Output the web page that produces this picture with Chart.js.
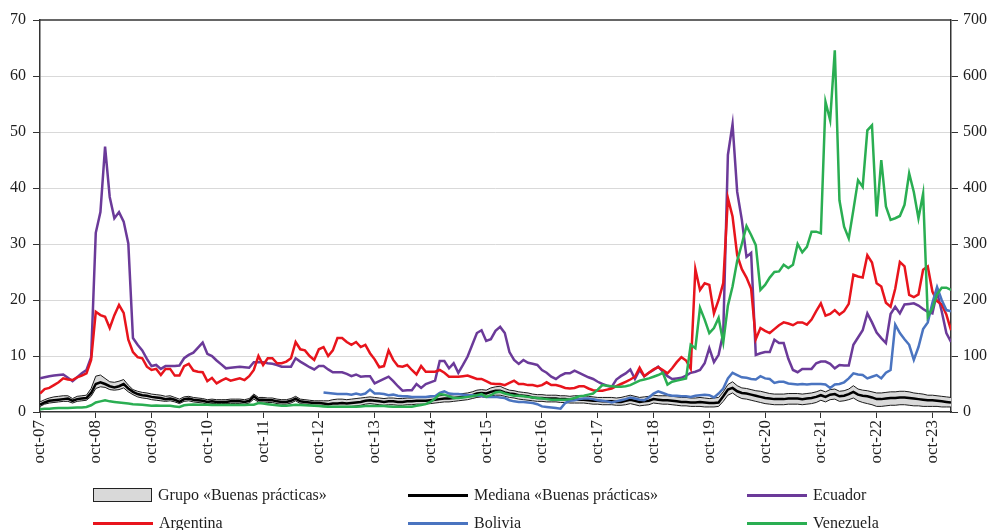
<!DOCTYPE html>
<html lang="es">
<head>
<meta charset="utf-8">
<title>Diferenciales soberanos</title>
<script src="https://cdn.jsdelivr.net/npm/chart.js@4.4.0/dist/chart.umd.min.js"></script>
<style>
  html, body { margin: 0; padding: 0; background: #fff; }
  #wrap { position: relative; width: 989px; height: 530px; overflow: hidden; }
  #chart { position: absolute; left: 0; top: 0; }
  .lg-item { position: absolute; height: 20px; display: flex; align-items: center;
             font-family: 'Liberation Serif', 'Times New Roman', serif; font-size: 16px; color: #1e1e1e; white-space: nowrap; }
  .lg-box { width: 57px; height: 12px; background: #d9d9d9; border: 1.5px solid #222; margin-right: 6px; }
  .lg-line { width: 60px; height: 3px; margin-right: 6px; }
</style>
</head>
<body>
<div id="wrap">
  <canvas id="chart" width="989" height="530"></canvas>
  <div id="legend"></div>
</div>
<script>
// Monthly series, October 2007 to February 2024 (one row per year, Oct..Sep)
const xTickLabels = ['oct-07','oct-08','oct-09','oct-10','oct-11','oct-12','oct-13','oct-14',
                     'oct-15','oct-16','oct-17','oct-18','oct-19','oct-20','oct-21','oct-22','oct-23'];

const ecuador = [
  6.0, 6.2, 6.4, 6.5, 6.6, 6.7, 6.1, 5.5, 6.2, 6.9, 7.5, 9.8,
  32, 35.7, 47.4, 38.4, 34.6, 35.7, 34, 30.1, 13.2, 12, 11, 9.5,
  8.2, 8.4, 7.7, 8.2, 8.2, 8.2, 8.3, 9.6, 10.2, 10.6, 11.5, 12.4,
  10.4, 10, 9.2, 8.5, 7.8, 7.9, 8, 8.1, 8, 7.9, 8.9, 8.9,
  8.9, 8.7, 8.6, 8.4, 8.1, 8.1, 8.1, 9.6, 9, 8.5, 8, 7.6,
  8.2, 8.2, 7.6, 7.1, 7.1, 7.1, 6.8, 6.4, 6.7, 6.3, 6.4, 6.4,
  5.1, 5.5, 5.9, 6.3, 5.5, 4.6, 3.8, 3.9, 3.9, 5, 4.3, 5,
  5.3, 5.6, 9.1, 9.1, 7.8, 8.7, 7, 8.4, 9.9, 12, 14.1, 14.6,
  12.7, 13, 14.5, 15.2, 14.1, 10.7, 9.3, 8.6, 9.3, 8.8, 8.6, 8.4,
  7.5, 7, 6.3, 5.9, 6.5, 6.9, 6.9, 7.4, 7, 6.6, 6.2, 5.9,
  5.4, 5, 4.7, 4.5, 5.8, 6.4, 6.9, 7.6, 5.9, 7.5, 6.4, 7,
  7.5, 8.1, 7.2, 6.4, 5.9, 6, 6.1, 6.5, 7, 7.2, 7.5, 8.7,
  11.4, 8.9, 10.2, 14.1, 45.9, 51.4, 39.3, 34.3, 27.7, 28.4, 10.2, 10.5,
  10.7, 10.7, 12.9, 12.3, 12.3, 9.5, 7.5, 7.1, 7.7, 7.7, 7.7, 8.7,
  9, 9, 8.6, 7.8, 8.4, 8.3, 8.3, 12, 13.3, 14.6, 17.6, 16,
  14.2, 13.2, 12.3, 17.5, 18.8, 17.6, 19.2, 19.3, 19.4, 19, 18.4, 17.9,
  17.6, 21.4, 18, 14.1, 12.5
];

const argentina = [
  3.3, 4.1, 4.3, 4.8, 5.3, 6.0, 5.8, 5.7, 6.2, 6.5, 6.9, 9.3,
  17.9, 17.3, 17, 15, 17.3, 19.1, 17.7, 12.9, 10.7, 9.8, 9.6, 8.1,
  7.5, 7.7, 6.6, 7.7, 7.7, 6.5, 6.5, 8.2, 8.6, 7.4, 7.2, 7.1,
  5.5, 6.1, 5.1, 5.6, 6, 5.6, 5.8, 6, 5.7, 6.4, 7.5, 10,
  8.4, 9.6, 9.6, 8.7, 8.7, 9, 9.6, 12.5, 11.2, 11, 10, 9.3,
  11.2, 11.6, 10, 11, 13.2, 13.2, 12.5, 12, 12.5, 11.6, 12, 10.5,
  9.4, 8, 8.2, 11, 9.3, 8.2, 8.1, 8.4, 7.5, 6.7, 8.2, 7.2,
  7.2, 7.2, 7.5, 7, 6.3, 6.3, 6.3, 6.4, 6.5, 6.2, 5.9, 5.9,
  5.5, 5.1, 5, 5, 4.8, 5.2, 5.6, 5, 5, 4.8, 4.8, 4.6,
  4.8, 5.3, 4.8, 4.8, 4.6, 4.3, 4.2, 4.3, 4.6, 4.6, 4.2, 3.9,
  3.8, 3.8, 4, 4.2, 4.6, 5, 5.4, 5.8, 6.3, 7.9, 6.4, 7,
  7.6, 8, 7.5, 6.9, 7.8, 8.9, 9.8, 9.2, 7.7, 25.5, 21.8, 23,
  22.7, 17.6, 20, 23, 38.2, 34.9, 28, 25.5, 24, 22, 13, 15,
  14.5, 14.1, 14.8, 15.5, 16, 15.8, 15.5, 16, 16, 15.6, 16.5, 18,
  19.4, 17.2, 17.5, 18.2, 17.4, 18, 19.3, 24.5, 24.2, 24, 28, 26.7,
  23, 22.4, 19.5, 18.8, 22, 26.8, 26, 20.9, 20.5, 21, 25.4, 26,
  21.5, 19.8, 19.2, 17.4, 14.6
];

const bolivia = [
  null, null, null, null, null, null, null, null, null, null, null, null,
  null, null, null, null, null, null, null, null, null, null, null, null,
  null, null, null, null, null, null, null, null, null, null, null, null,
  null, null, null, null, null, null, null, null, null, null, null, null,
  null, null, null, null, null, null, null, null, null, null, null, null,
  null, 3.5, 3.4, 3.3, 3.2, 3.2, 3.2, 3.1, 3.3, 3.1, 3.3, 4.0,
  3.3, 3.3, 3.2, 3.0, 3.1, 2.9, 2.8, 2.8, 2.7, 2.7, 2.7, 2.7,
  2.8, 2.8, 3.4, 3.7, 3.3, 3.2, 3.2, 3.1, 3.0, 3.0, 2.9, 2.9,
  2.7, 2.7, 2.7, 2.6, 2.5, 2.1, 1.9, 1.8, 1.8, 1.7, 1.6, 1.4,
  1.0, 0.9, 0.8, 0.7, 0.6, 1.6, 2.0, 2.1, 2.3, 2.4, 2.4, 2.3,
  2.1, 2.0, 1.9, 1.7, 1.9, 2.1, 2.3, 2.6, 2.4, 2.2, 2.1, 2.6,
  3.3, 3.7, 3.4, 3.1, 2.9, 2.9, 2.8, 2.8, 2.7, 2.9, 3.0, 3.1,
  3.0, 2.6, 3.3, 4.2, 6.0, 7.0, 6.6, 6.2, 6.1, 5.9, 5.8, 6.4,
  6.0, 5.9, 5.2, 5.4, 5.4, 5.1, 5.0, 4.9, 5.0, 4.9, 5.0, 5.0,
  5.0, 4.9, 4.3, 4.9, 5.0, 5.3, 6.0, 6.9, 6.7, 6.6, 6.0, 6.3,
  6.6, 6.0, 7.0, 7.5, 15.6, 14.1, 13.0, 12.0, 9.3, 11.6, 14.8, 16.0,
  19.5, 22.3, 20.0, 18.2, 18.0
];

// Venezuela is read on the right-hand axis
const venezuela = [
  5, 6, 6, 6.5, 7, 7, 7, 7.5, 8, 8, 9, 12,
  17, 19, 21, 19, 18, 17, 16, 15, 14, 13.5, 13, 12,
  11, 11.5, 11, 11, 11, 10, 9, 12, 13, 13.5, 13, 13,
  13, 12.5, 12.5, 12.5, 12.5, 12.5, 12.5, 12.5, 12.5, 13, 13, 16,
  15, 14, 13, 12, 11, 11, 12, 13, 12.5, 12, 11.5, 11,
  10.5, 10, 9.5, 9.5, 9.5, 9.5, 9.5, 9.5, 9.5, 10, 10.5, 10.7,
  10.7, 10.7, 10.5, 10, 9.5, 9.5, 9.5, 9.5, 9.5, 11, 12.6, 14,
  18, 24, 32, 31, 28, 25, 25, 26, 27, 28, 30, 32,
  27, 30, 35, 36, 33, 31, 29, 29, 28, 27, 26, 25,
  24, 23, 22, 22, 22, 22, 23, 25, 28, 29, 31, 33,
  40, 48, 47, 46, 45, 45, 46, 48, 52, 56, 58, 60,
  63, 66, 70, 49, 54, 56, 58, 60, 120, 114, 186, 165,
  141, 150, 168, 124, 190, 224, 270, 300, 332, 316, 298, 218,
  227, 240, 250, 251, 263, 257, 263, 300, 285, 295, 322, 322,
  319, 554, 521, 646, 378, 331, 310, 361, 414, 402, 503, 512,
  349, 450, 367, 343, 346, 350, 370, 426, 393, 346, 390, 170,
  185, 210, 222, 222, 218
];

// "Buenas prácticas" group: median and range
const medianaBP = [
  1.3, 1.7, 2.0, 2.1, 2.2, 2.3, 2.4, 2.0, 2.3, 2.4, 2.5, 3.4,
  5.0, 5.3, 5.0, 4.6, 4.4, 4.6, 5.0, 4.2, 3.6, 3.2, 3.0, 2.9,
  2.7, 2.6, 2.5, 2.3, 2.4, 2.2, 1.8, 2.3, 2.4, 2.2, 2.1, 2.0,
  1.8, 1.9, 1.8, 1.8, 1.8, 1.9, 1.9, 1.9, 1.8, 2.0, 2.8, 2.2,
  2.2, 2.1, 2.1, 1.9, 1.8, 1.8, 2.0, 2.4, 1.9, 1.8, 1.7, 1.6,
  1.6, 1.5, 1.4, 1.5, 1.5, 1.6, 1.5, 1.6, 1.7, 1.8, 2.0, 2.1,
  2.0, 1.9, 1.8, 1.9, 1.9, 1.8, 1.8, 1.9, 1.9, 2.0, 2.0, 2.0,
  2.1, 2.2, 2.3, 2.4, 2.4, 2.5, 2.6, 2.7, 2.8, 3.0, 3.3, 3.4,
  3.3, 3.6, 3.8, 3.8, 3.5, 3.3, 3.2, 3.0, 2.9, 2.8, 2.6, 2.5,
  2.5, 2.4, 2.4, 2.4, 2.3, 2.3, 2.2, 2.2, 2.2, 2.2, 2.1, 2.0,
  2.0, 1.9, 1.9, 1.9, 1.8, 1.8, 2.0, 2.2, 2.0, 1.8, 1.9, 2.0,
  2.3, 2.2, 2.1, 2.1, 2.0, 1.9, 1.8, 1.8, 1.7, 1.7, 1.8, 1.7,
  1.6, 1.6, 1.7, 2.8, 4.0, 4.3, 3.7, 3.4, 3.3, 3.1, 2.9, 2.7,
  2.5, 2.4, 2.3, 2.3, 2.3, 2.4, 2.4, 2.4, 2.3, 2.4, 2.5, 2.7,
  3.0, 2.7, 3.1, 3.2, 2.8, 2.9, 3.2, 3.6, 3.1, 2.9, 2.8, 2.6,
  2.3, 2.3, 2.4, 2.5, 2.5, 2.6, 2.6, 2.5, 2.4, 2.3, 2.2, 2.1,
  2.1, 2.0, 1.9, 1.8, 1.7
];

const grupoMax = [
  1.8, 2.2, 2.5, 2.7, 2.8, 2.9, 2.9, 2.4, 2.8, 2.9, 3.0, 4.2,
  6.4, 6.6, 6.0, 5.4, 5.3, 5.5, 5.8, 4.8, 4.0, 3.7, 3.5, 3.4,
  3.2, 3.1, 3.0, 2.8, 2.9, 2.6, 2.3, 2.7, 2.8, 2.6, 2.5, 2.4,
  2.2, 2.3, 2.2, 2.2, 2.2, 2.3, 2.3, 2.3, 2.2, 2.4, 3.2, 2.6,
  2.6, 2.5, 2.5, 2.3, 2.2, 2.2, 2.4, 2.8, 2.3, 2.2, 2.1, 2.0,
  2.0, 2.0, 2.0, 2.2, 2.3, 2.3, 2.2, 2.3, 2.4, 2.5, 2.6, 2.7,
  2.6, 2.5, 2.4, 2.5, 2.5, 2.4, 2.4, 2.5, 2.5, 2.6, 2.6, 2.6,
  2.7, 2.8, 2.9, 3.0, 3.0, 3.1, 3.2, 3.3, 3.4, 3.6, 3.9, 4.0,
  3.9, 4.3, 4.5, 4.6, 4.2, 3.9, 3.8, 3.6, 3.5, 3.4, 3.2, 3.1,
  3.1, 3.0, 3.0, 3.0, 2.9, 2.9, 2.8, 2.9, 2.9, 2.9, 2.8, 2.7,
  2.6, 2.6, 2.6, 2.6, 2.5, 2.6, 2.8, 3.0, 2.8, 2.6, 2.7, 2.8,
  3.0, 2.9, 2.9, 2.9, 2.8, 2.7, 2.6, 2.6, 2.5, 2.5, 2.6, 2.5,
  2.4, 2.5, 2.6, 3.6, 4.9, 5.4, 4.7, 4.3, 4.2, 4.0, 3.8, 3.7,
  3.5, 3.3, 3.2, 3.2, 3.2, 3.3, 3.3, 3.3, 3.2, 3.3, 3.4, 3.6,
  3.9, 3.6, 4.0, 4.1, 3.7, 3.8, 4.1, 4.7, 4.1, 3.9, 3.8, 3.6,
  3.4, 3.4, 3.5, 3.6, 3.6, 3.7, 3.7, 3.6, 3.4, 3.3, 3.2, 3.0,
  3.0, 2.9, 2.8, 2.7, 2.6
];

const grupoMin = [
  1.0, 1.4, 1.6, 1.7, 1.8, 1.9, 1.9, 1.6, 1.9, 2.0, 2.1, 2.8,
  4.2, 4.5, 4.4, 4.0, 3.9, 4.0, 4.3, 3.6, 3.1, 2.7, 2.5, 2.4,
  2.2, 2.1, 2.0, 1.9, 2.0, 1.8, 1.5, 1.9, 2.0, 1.8, 1.7, 1.6,
  1.4, 1.5, 1.5, 1.5, 1.5, 1.5, 1.5, 1.5, 1.4, 1.6, 2.3, 1.8,
  1.8, 1.7, 1.7, 1.5, 1.4, 1.4, 1.6, 2.0, 1.5, 1.4, 1.3, 1.2,
  1.2, 1.1, 1.0, 1.0, 1.0, 1.0, 1.0, 1.0, 1.1, 1.2, 1.4, 1.5,
  1.4, 1.3, 1.2, 1.3, 1.3, 1.2, 1.2, 1.3, 1.3, 1.4, 1.4, 1.4,
  1.5, 1.6, 1.7, 1.8, 1.8, 1.9, 2.0, 2.1, 2.2, 2.4, 2.6, 2.7,
  2.6, 2.9, 3.0, 3.0, 2.8, 2.6, 2.5, 2.3, 2.2, 2.1, 2.0, 1.9,
  1.9, 1.8, 1.8, 1.8, 1.7, 1.7, 1.6, 1.6, 1.6, 1.6, 1.5, 1.4,
  1.4, 1.3, 1.3, 1.3, 1.2, 1.2, 1.3, 1.5, 1.3, 1.1, 1.2, 1.3,
  1.6, 1.5, 1.4, 1.4, 1.3, 1.2, 1.1, 1.1, 1.0, 1.0, 1.0, 0.9,
  0.9, 0.9, 1.0, 1.9, 3.0, 3.4, 2.8, 2.4, 2.3, 2.1, 1.9, 1.7,
  1.5, 1.4, 1.3, 1.3, 1.3, 1.4, 1.4, 1.4, 1.3, 1.4, 1.5, 1.7,
  2.1, 1.8, 2.2, 2.3, 1.9, 2.0, 2.2, 2.5, 2.0, 1.7, 1.5, 1.3,
  1.0, 1.0, 1.1, 1.2, 1.2, 1.3, 1.3, 1.2, 1.1, 1.1, 1.0, 1.0,
  1.0, 1.0, 0.9, 0.9, 0.9
];

const seriesNames = ['Grupo «Buenas prácticas»', 'Mediana «Buenas prácticas»', 'Ecuador',
                     'Argentina', 'Bolivia', 'Venezuela'];
const colors = { band: '#d9d9d9', edge: '#1a1a1a', ecuador: '#6b3a99', argentina: '#e8141c',
                 bolivia: '#4a74c0', venezuela: '#2aae52' };

// month index 0 = oct-07
const months = ecuador.map((_, i) => i);
const serif = 'Liberation Serif';

// dark frame line along the top of the plot area
const topFrame = {
  id: 'topFrame',
  afterDraw(chart) {
    const { ctx, chartArea: a } = chart;
    ctx.save();
    ctx.strokeStyle = '#333';
    ctx.lineWidth = 1.5;
    ctx.beginPath();
    ctx.moveTo(a.left, a.top);
    ctx.lineTo(a.right, a.top);
    ctx.stroke();
    ctx.restore();
  }
};

const lineBase = { pointRadius: 0, pointHoverRadius: 0, tension: 0, fill: false, spanGaps: false };

new Chart(document.getElementById('chart'), {
  type: 'line',
  data: {
    labels: months,
    datasets: [
      { ...lineBase, label: seriesNames[0], data: grupoMax, borderColor: colors.edge, borderWidth: 1,
        backgroundColor: colors.band, fill: '+1', order: 7, yAxisID: 'y' },
      { ...lineBase, label: seriesNames[0] + ' (mín.)', data: grupoMin, borderColor: colors.edge, borderWidth: 1,
        order: 6, yAxisID: 'y' },
      { ...lineBase, label: seriesNames[1], data: medianaBP, borderColor: '#000', borderWidth: 2.5, order: 5, yAxisID: 'y' },
      { ...lineBase, label: seriesNames[2], data: ecuador, borderColor: colors.ecuador, borderWidth: 2.5, order: 4, yAxisID: 'y' },
      { ...lineBase, label: seriesNames[3], data: argentina, borderColor: colors.argentina, borderWidth: 2.5, order: 3, yAxisID: 'y' },
      { ...lineBase, label: seriesNames[4], data: bolivia, borderColor: colors.bolivia, borderWidth: 2.5, order: 2, yAxisID: 'y' },
      { ...lineBase, label: seriesNames[5], data: venezuela, borderColor: colors.venezuela, borderWidth: 2.5, order: 1, yAxisID: 'y1' }
    ]
  },
  options: {
    responsive: false,
    animation: false,
    events: [],
    layout: { padding: { top: 20, left: 0, right: 0, bottom: 0 } },
    plugins: { legend: { display: false }, tooltip: { enabled: false } },
    scales: {
      x: {
        type: 'linear', min: 0, max: 196,
        afterBuildTicks: (axis) => { axis.ticks = xTickLabels.map((_, k) => ({ value: k * 12 })); },
        afterFit: (s) => { s.height = 118; },
        ticks: {
          callback: (v) => xTickLabels[Math.round(v / 12)],
          autoSkip: false, maxRotation: 90, minRotation: 90, padding: 2,
          color: '#1e1e1e', font: { family: serif, size: 17 }
        },
        grid: { drawOnChartArea: false, drawTicks: true, tickLength: 6, tickColor: '#333', tickWidth: 1 },
        border: { color: '#333', width: 1.5 }
      },
      y: {
        position: 'left', min: 0, max: 70,
        afterFit: (s) => { s.width = 40; },
        ticks: { stepSize: 10, padding: 7, color: '#1e1e1e', font: { family: serif, size: 16 } },
        grid: { color: (c) => (c.tick && (c.tick.value === 0 || c.tick.value === 70)) ? 'rgba(0,0,0,0)' : '#d9d9d9',
                lineWidth: 1, tickLength: 7, tickColor: '#333', tickWidth: 1 },
        border: { color: '#333', width: 1.5 }
      },
      y1: {
        position: 'right', min: 0, max: 700,
        afterFit: (s) => { s.width = 38; },
        ticks: { stepSize: 100, padding: 5, color: '#1e1e1e', font: { family: serif, size: 16 } },
        grid: { drawOnChartArea: false, tickLength: 7, tickColor: '#333', tickWidth: 1 },
        border: { color: '#333', width: 1.5 }
      }
    }
  },
  plugins: [topFrame]
});

// legend: three columns, two rows
const legendItems = [
  { name: seriesNames[0], kind: 'box', left: 93, top: 485 },
  { name: seriesNames[1], kind: 'line', color: '#000', left: 408, top: 485 },
  { name: seriesNames[2], kind: 'line', color: colors.ecuador, left: 747, top: 485 },
  { name: seriesNames[3], kind: 'line', color: colors.argentina, left: 93, top: 513 },
  { name: seriesNames[4], kind: 'line', color: colors.bolivia, left: 408, top: 513 },
  { name: seriesNames[5], kind: 'line', color: colors.venezuela, left: 747, top: 513 }
];
const legendEl = document.getElementById('legend');
legendItems.forEach((it) => {
  const item = document.createElement('div');
  item.className = 'lg-item';
  item.style.left = it.left + 'px';
  item.style.top = it.top + 'px';
  const sw = document.createElement('span');
  if (it.kind === 'box') {
    sw.className = 'lg-box';
  } else {
    sw.className = 'lg-line';
    sw.style.background = it.color;
  }
  const tx = document.createElement('span');
  tx.textContent = it.name;
  item.appendChild(sw);
  item.appendChild(tx);
  legendEl.appendChild(item);
});
</script>
</body>
</html>
